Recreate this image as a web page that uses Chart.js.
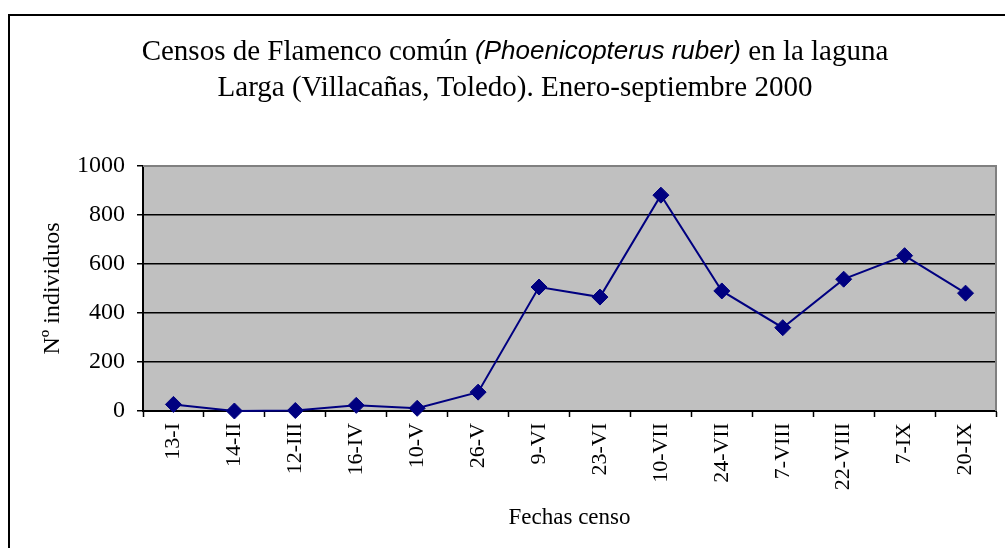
<!DOCTYPE html>
<html>
<head>
<meta charset="utf-8">
<script src="https://cdn.jsdelivr.net/npm/chart.js@4.4.1/dist/chart.umd.min.js"></script>
<style>
  html, body { margin: 0; padding: 0; background: #ffffff; }
  #wrap { width: 1005px; height: 548px; position: relative; }
</style>
</head>
<body>
<div id="wrap"><canvas id="c" width="1005" height="548"></canvas></div>
<script>
const categories = ["13-I","14-II","12-III","16-IV","10-V","26-V","9-VI","23-VI","10-VII","24-VII","7-VIII","22-VIII","7-IX","20-IX"];
const flamencoCounts = [27, 0, 2, 23, 11, 77, 506, 465, 881, 490, 340, 538, 634, 481];
const yTickValues = [0, 200, 400, 600, 800, 1000];
const titleLine1 = [
  { text: "Censos de Flamenco común ", italic: false },
  { text: "(Phoenicopterus ruber)", italic: true },
  { text: " en la laguna", italic: false }
];
const titleLine2 = "Larga (Villacañas, Toledo). Enero-septiembre 2000";
const yAxisTitle = "Nº individuos";
const xAxisTitle = "Fechas censo";

const SERIF = "'Liberation Serif', 'Times New Roman', serif";
const SANS = "'Liberation Sans', Arial, sans-serif";

const framePlugin = {
  id: 'frame',
  beforeDraw(chart) {
    const ctx = chart.ctx;
    const a = chart.chartArea;
    ctx.save();
    ctx.fillStyle = '#ffffff';
    ctx.fillRect(0, 0, chart.width, chart.height);
    ctx.strokeStyle = '#000000';
    ctx.lineWidth = 2;
    ctx.strokeRect(9, 15, chart.width + 20, chart.height + 20);
    ctx.fillStyle = '#C0C0C0';
    ctx.fillRect(a.left, a.top, a.right - a.left, a.bottom - a.top);
    ctx.restore();
  },
  beforeDatasetsDraw(chart) {
    const ctx = chart.ctx;
    const a = chart.chartArea;
    ctx.save();
    ctx.strokeStyle = '#808080';
    ctx.lineWidth = 2;
    ctx.beginPath();
    ctx.moveTo(a.left, a.top);
    ctx.lineTo(a.right, a.top);
    ctx.lineTo(a.right, a.bottom);
    ctx.stroke();
    ctx.restore();
  },
  afterDraw(chart) {
    const ctx = chart.ctx;
    const cx = 515;
    ctx.save();
    ctx.fillStyle = '#000000';
    ctx.textBaseline = 'middle';
    ctx.textAlign = 'left';
    const fontFor = p => p.italic ? ("italic 26px " + SANS) : ("29px " + SERIF);
    let total = 0;
    titleLine1.forEach(p => { ctx.font = fontFor(p); total += ctx.measureText(p.text).width; });
    let x = cx - total / 2;
    titleLine1.forEach(p => { ctx.font = fontFor(p); ctx.fillText(p.text, x, 52); x += ctx.measureText(p.text).width; });
    ctx.font = "29px " + SERIF;
    ctx.textAlign = 'center';
    ctx.fillText(titleLine2, cx, 88);
    ctx.restore();
  }
};

new Chart(document.getElementById('c'), {
  type: 'line',
  data: {
    labels: categories,
    datasets: [{
      data: flamencoCounts,
      borderColor: '#000080',
      backgroundColor: '#000080',
      borderWidth: 2,
      tension: 0,
      pointStyle: 'rectRot',
      pointRadius: 8,
      pointHoverRadius: 8,
      pointBorderWidth: 1,
      clip: false
    }]
  },
  options: {
    responsive: false,
    animation: false,
    layout: { padding: { top: 166, right: 6, left: 0, bottom: 0 } },
    plugins: { legend: { display: false }, title: { display: false }, tooltip: { enabled: false } },
    scales: {
      x: {
        offset: true,
        afterFit(scale) { scale.height = 137; },
        grid: { offset: true, drawOnChartArea: false, drawTicks: true, tickLength: 6, tickColor: '#000000', tickWidth: 1.5 },
        border: { display: true, color: '#000000', width: 2 },
        ticks: {
          color: '#000000', font: { family: SERIF, size: 22 },
          maxRotation: 90, minRotation: 90, padding: 6, autoSkip: false
        },
        title: { display: true, text: xAxisTitle, color: '#000000', font: { family: SERIF, size: 23 }, padding: { top: 0, bottom: 16 } }
      },
      y: {
        min: 0, max: 1000,
        afterFit(scale) { scale.width = 143; },
        afterBuildTicks(scale) { scale.ticks = yTickValues.map(v => ({ value: v })); },
        grid: {
          color: ctx => (ctx.tick && (ctx.tick.value === 0 || ctx.tick.value === 1000)) ? 'rgba(0,0,0,0)' : '#000000',
          lineWidth: 1.5,
          tickColor: '#000000', tickLength: 6, tickWidth: 1.5
        },
        border: { display: true, color: '#000000', width: 2 },
        ticks: { color: '#000000', font: { family: SERIF, size: 24 }, padding: 12, callback: v => String(v) },
        title: { display: true, text: yAxisTitle, color: '#000000', font: { family: SERIF, size: 24 }, padding: { top: 38, bottom: 0 } }
      }
    }
  },
  plugins: [framePlugin]
});
</script>
</body>
</html>
